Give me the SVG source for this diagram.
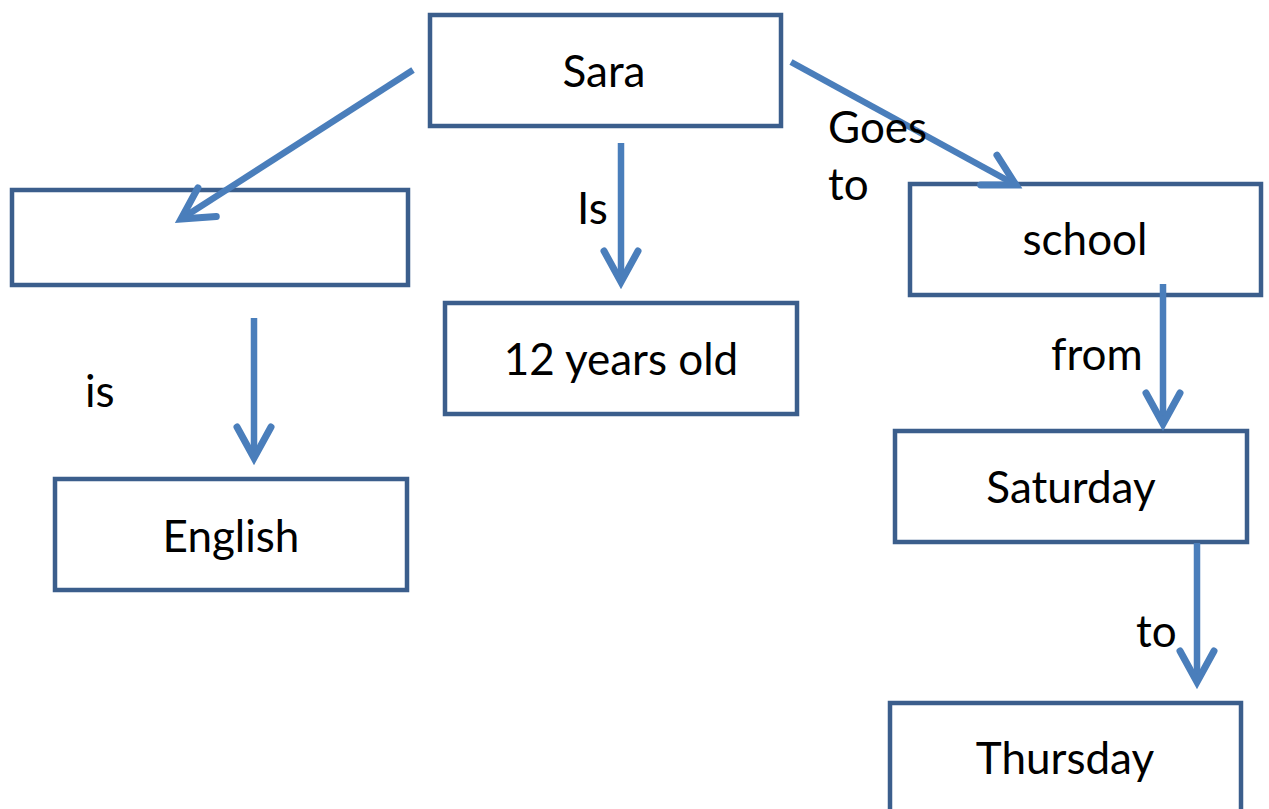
<svg xmlns="http://www.w3.org/2000/svg" width="1269" height="809" viewBox="0 0 1269 809">
  <style>
    .box { fill: #ffffff; stroke: #3B5E8C; stroke-width: 4.5; }
    .lbl { font-family: Lato, "Open Sans", "Liberation Sans", sans-serif; font-size: 44px; fill: #000000; }
    .ntxt { text-anchor: middle; }
    .conn { stroke: #4A7EBB; stroke-width: 6.5; fill: none; marker-end: url(#arr); }
  </style>
  <defs>
    <marker id="arr" markerUnits="userSpaceOnUse" viewBox="-40 -25 50 50" markerWidth="50" markerHeight="50" refX="0" refY="0" orient="auto" overflow="visible">
      <path d="M-31,-17 L0,0 L-31,17" fill="none" stroke="#4A7EBB" stroke-width="7" stroke-linecap="round" stroke-linejoin="miter"/>
    </marker>
  </defs>
  <rect width="1269" height="809" fill="#ffffff"/>

  <g id="node-sara">
    <rect class="box" x="430" y="15" width="351" height="111"/>
    <text class="lbl ntxt" x="604" y="87">Sara</text>
  </g>
  <g id="node-empty">
    <rect class="box" x="12" y="190" width="396" height="95"/>
  </g>
  <g id="node-age">
    <rect class="box" x="445" y="303" width="352" height="111"/>
    <text class="lbl ntxt" x="621" y="375">12 years old</text>
  </g>
  <g id="node-english">
    <rect class="box" x="55" y="479" width="352" height="111"/>
    <text class="lbl ntxt" x="231" y="552">English</text>
  </g>
  <g id="node-school">
    <rect class="box" x="910" y="184" width="351" height="111"/>
    <text class="lbl ntxt" x="1085" y="255">school</text>
  </g>
  <g id="node-saturday">
    <rect class="box" x="895" y="431" width="352" height="111"/>
    <text class="lbl ntxt" x="1071" y="503">Saturday</text>
  </g>
  <g id="node-thursday">
    <rect class="box" x="890" y="703" width="351" height="113"/>
    <text class="lbl ntxt" x="1065" y="774">Thursday</text>
  </g>

  <g id="connectors">
    <line class="conn" x1="413" y1="70" x2="181" y2="219"/>
    <line class="conn" x1="621" y1="143" x2="621" y2="282"/>
    <line class="conn" x1="791" y1="62" x2="1016" y2="185"/>
    <line class="conn" x1="254" y1="318" x2="254" y2="458"/>
    <line class="conn" x1="1163" y1="284" x2="1163" y2="424"/>
    <line class="conn" x1="1197" y1="543" x2="1197" y2="682"/>
  </g>

  <g id="labels">
    <text class="lbl" x="577" y="224">Is</text>
    <text class="lbl" x="828" y="143">Goes</text>
    <text class="lbl" x="828" y="200">to</text>
    <text class="lbl" x="85" y="407">is</text>
    <text class="lbl" x="1051" y="370">from</text>
    <text class="lbl" x="1136" y="647">to</text>
  </g>
</svg>
